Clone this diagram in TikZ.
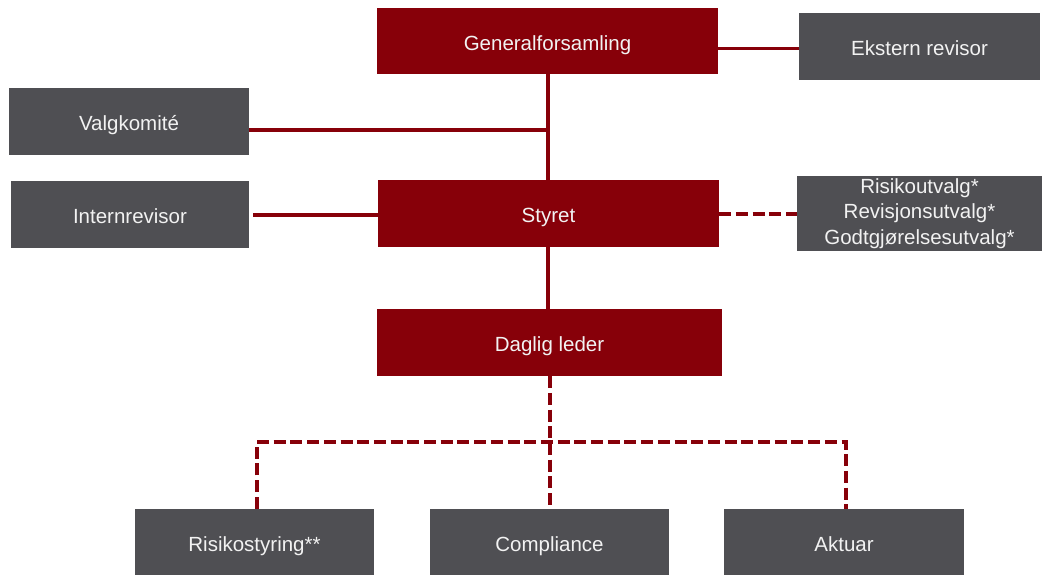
\documentclass[tikz,border=0pt]{standalone}
\usepackage{fontspec}
\setmainfont{Liberation Sans}
\definecolor{boxred}{RGB}{135,0,9}
\definecolor{boxgray}{RGB}{79,79,83}
\definecolor{txt}{RGB}{242,242,242}
\begin{document}
\begin{tikzpicture}[x=1pt,y=-1pt,
  base/.style={rectangle,inner sep=0pt,text=txt,font=\fontsize{20.5}{25.5}\selectfont,align=center},
  one/.style={text height=18pt,text depth=0pt},
  redbox/.style={base,fill=boxred},
  graybox/.style={base,fill=boxgray},
  conn/.style={draw=boxred,line width=3.5pt},
  dconn/.style={draw=boxred,line width=4pt,dash pattern=on 12pt off 4.7pt}]
\useasboundingbox (0,0) rectangle (1046,574);
\node[redbox,one,minimum width=341pt,minimum height=66pt] (gen) at (547.5,41) {Generalforsamling};
\node[graybox,one,minimum width=241pt,minimum height=67pt] (ext) at (919.5,46.5) {Ekstern revisor};
\node[graybox,one,minimum width=240pt,minimum height=67pt] (valg) at (129,121.5) {Valgkomité};
\node[graybox,one,minimum width=238pt,minimum height=67pt] (intern) at (130,214.5) {Internrevisor};
\node[redbox,one,minimum width=341pt,minimum height=67pt] (styret) at (548.5,213.5) {Styret};
\node[graybox,minimum width=245pt,minimum height=75pt] (utv) at (919.5,213.5) {Risikoutvalg*\\Revisjonsutvalg*\\Godtgjørelsesutvalg*};
\node[redbox,one,minimum width=345pt,minimum height=67pt] (daglig) at (549.5,342.5) {Daglig leder};
\node[graybox,one,minimum width=239pt,minimum height=66pt] (risk) at (254.5,542) {Risikostyring**};
\node[graybox,one,minimum width=239pt,minimum height=66pt] (comp) at (549.5,542) {Compliance};
\node[graybox,one,minimum width=240pt,minimum height=66pt] (akt) at (844,542) {Aktuar};
\coordinate (c1) at (0,48.5);
\coordinate (j1) at (548,130);
\coordinate (c2) at (0,215);
\coordinate (hl) at (257,442);
\coordinate (hr) at (846,442);
\draw[conn] (gen.east |- c1) -- (ext.west |- c1);
\draw[conn] (gen.south -| j1) -- (styret.north -| j1);
\draw[conn] (valg.east |- j1) -- (j1);
\draw[conn,shorten <=4pt] (intern.east |- c2) -- (styret.west |- c2);
\draw[dconn] (styret.east) -- (utv.west);
\draw[conn] (styret.south -| j1) -- (daglig.north -| j1);
\draw[dconn] (daglig.south) -- (comp.north);
\draw[dconn] (risk.north -| hl) -- (hl) -- (hr) -- (akt.north -| hr);
\end{tikzpicture}
\end{document}
